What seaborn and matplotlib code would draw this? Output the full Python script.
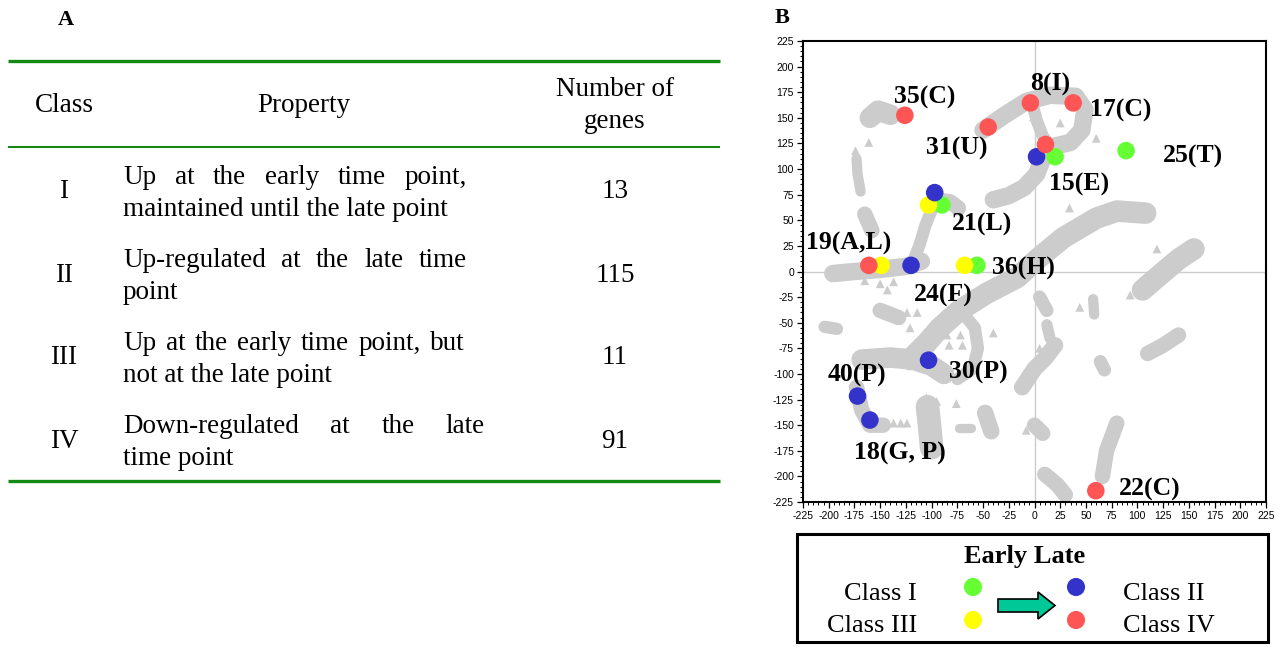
import numpy as np
import pandas as pd
import seaborn as sns
import matplotlib.pyplot as plt
from matplotlib.patches import Rectangle, FancyArrow

sns.set_theme(style="white")
plt.rcParams['font.family'] = ['Liberation Serif', 'DejaVu Serif']
plt.rcParams['axes.unicode_minus'] = False
plt.rcParams['text.color'] = 'black'
plt.rcParams['xtick.color'] = 'black'
plt.rcParams['ytick.color'] = 'black'

# ---- panel A: table ----
row_class = ["I", "II", "III", "IV"]
row_text = [["Up at the early time point,", "maintained until the late point"],
            ["Up-regulated at the late time", "point"],
            ["Up at the early time point, but", "not at the late point"],
            ["Down-regulated at the late", "time point"]]
row_genes = ["13", "115", "11", "91"]

# ---- panel B: gene points on the map ----
pt_x = [-126, -45, -4, 37.6, 2, 20, 10.7, 89, -90, -103, -97,
        -149, -161, -120, -56, -68, -103, -172, -160, 59.6]
pt_y = [152.5, 141, 164.6, 164.6, 112, 112, 124, 118, 65, 65, 77,
        6, 6, 6, 6, 6, -86.6, -121.6, -145, -214]
pt_cls = ["IV", "IV", "IV", "IV", "II", "I", "IV", "I", "I", "III", "II",
          "III", "IV", "II", "I", "III", "II", "II", "II", "IV"]
cls_colors = {"I": "#66ff33", "II": "#3333cc", "III": "#ffff00", "IV": "#ff5555"}

lab_text = ["35(C)", "8(I)", "17(C)", "31(U)", "25(T)", "15(E)", "21(L)", "19(A,L)",
            "36(H)", "24(F)", "30(P)", "40(P)", "18(G, P)", "22(C)"]
lab_x = [-107, 15, 84, -76, 154, 43, -51, -181, -11, -89, -55, -173, -131, 112]
lab_y = [170, 183, 157, 120, 112, 85, 46, 27, 3, -23, -99, -101, -178, -213]

# grey background of the map (ridges: points + thickness in map units)
ridges = [
    ([(-160, 150), (-152, 157), (-140, 153)], 20),
    ([(-50, 138), (-30, 152), (-8, 166), (15, 172), (40, 171), (49, 158), (46, 138),
      (35, 126), (18, 122), (8, 110), (2, 95), (-10, 82), (-25, 74), (-40, 70)], 17),
    ([(-2, 163), (2, 148), (8, 132), (14, 124)], 12),
    ([(-121, -86), (-105, -70), (-92, -55), (-73, -38), (-46, -21), (-17, -6),
      (5, 14), (28, 33), (60, 52), (80, 59), (108, 57)], 21),
    ([(-168, -86), (-140, -84), (-118, -86), (-100, -92), (-88, -100)], 20),
    ([(-70, -40), (-58, -55), (-55, -75), (-60, -95), (-75, -105)], 12),
    ([(-196, -2), (-175, 0), (-150, 2), (-125, 5), (-110, 10)], 17),
    ([(-120, 5), (-112, 25), (-106, 45), (-100, 60)], 12),
    ([(-95, 70), (-82, 68), (-74, 62)], 15),
    ([(-173, 110), (-172, 95), (-169, 78)], 10),
    ([(-165, 56), (-158, 40)], 15),
    ([(-150, -38), (-132, -45)], 15),
    ([(-204, -54), (-192, -56)], 12),
    ([(-173, -113), (-168, -135), (-160, -150), (-147, -150)], 15),
    ([(-104, -132), (-102, -150), (-100, -172)], 23),
    ([(-48, -138), (-42, -156)], 16),
    ([(-73, -153), (-62, -153)], 9),
    ([(-12, -113), (0, -95), (10, -85), (20, -72)], 16),
    ([(5, -25), (12, -38)], 13),
    ([(12, -52), (15, -65)], 11),
    ([(57, -27), (58, -42)], 10),
    ([(105, -18), (120, -5), (140, 12), (155, 22)], 21),
    ([(110, -80), (125, -72), (140, -62)], 15),
    ([(64, -88), (68, -96)], 13),
    ([(66, -200), (70, -175), (80, -148)], 15),
    ([(10, -198), (22, -208), (30, -218)], 15),
    ([(0, -150), (8, -158)], 15),
]
tri_x = [-161, 60, 119, 34, 8, -1, 93, 44, 5, -121, -105, -95, -76, -137, -130, -124,
         -85, -72, -70, -83, -124, -114, -150, -143, -137, -165, -8, -174, 25, -40]
tri_y = [126, 130, 22, 62, 141, 151, -23, -35, -75, -55, -123, -127, -129, -148, -148, -148,
         -62, -62, -72, -72, -40, -40, -12, -18, -10, -9, -155, 118, 145, -60]

fig = plt.figure(figsize=(12.81, 6.47), dpi=100)

# overlay axes in pixel units for table + legend
ov = fig.add_axes([0, 0, 1, 1])
ov.set_xlim(0, 1281)
ov.set_ylim(647, 0)
ov.axis("off")

green = "#138a13"
ov.text(66, 20, "A", ha="center", va="center", fontsize=16, fontweight="bold")
ov.plot([8, 720], [61, 61], color=green, lw=2.4, solid_capstyle="butt")
ov.plot([8, 720], [147, 147], color=green, lw=1.5, solid_capstyle="butt")
ov.plot([8, 720], [481, 481], color=green, lw=2.4, solid_capstyle="butt")

fs = 19.5
ov.text(64, 106, "Class", ha="center", va="center", fontsize=fs)
ov.text(304, 106, "Property", ha="center", va="center", fontsize=fs)
ov.text(615, 90, "Number of", ha="center", va="center", fontsize=fs)
ov.text(615, 122, "genes", ha="center", va="center", fontsize=fs)

renderer = fig.canvas.get_renderer()


def justified(line, x0, x1, yb):
    words = line.split(" ")
    objs = [ov.text(x0, yb, w, ha="left", va="baseline", fontsize=fs) for w in words]
    widths = [o.get_window_extent(renderer).width for o in objs]
    gap = (x1 - x0 - sum(widths)) / (len(words) - 1)
    x = x0
    for o, w in zip(objs, widths):
        o.set_x(x)
        x += w + gap


row_y = [192, 275, 358, 441]
row_right = [467, 467, 465, 485]
for yc, c, lines, g, xr in zip(row_y, row_class, row_text, row_genes, row_right):
    ov.text(64, yc, c, ha="center", va="center", fontsize=fs)
    ov.text(615, yc, g, ha="center", va="center", fontsize=fs)
    justified(lines[0], 123, xr, yc - 8)
    ov.text(123, yc + 24, lines[1], ha="left", va="baseline", fontsize=fs)

# ---- legend box ----
ov.add_patch(Rectangle((797, 534), 471, 108, fill=False, lw=2.2, edgecolor="black"))
ov.text(1025, 557, "Early Late", ha="center", va="center", fontsize=19, fontweight="bold")
ov.text(917, 594, "Class I", ha="right", va="center", fontsize=19)
ov.text(917, 626, "Class III", ha="right", va="center", fontsize=19)
ov.text(1123, 594, "Class II", ha="left", va="center", fontsize=19)
ov.text(1123, 626, "Class IV", ha="left", va="center", fontsize=19)
leg = pd.DataFrame({"x": [973, 973, 1076, 1076], "y": [587, 620, 587, 620],
                    "cls": ["I", "III", "II", "IV"]})
sns.scatterplot(data=leg, x="x", y="y", hue="cls", palette=cls_colors, s=170,
                edgecolor="none", legend=False, ax=ov)
ov.add_patch(FancyArrow(998, 605.5, 40, 0, width=13, head_width=27, head_length=17,
                        length_includes_head=False, facecolor="#00c896",
                        edgecolor="black", lw=1.2))
ov.set_xlim(0, 1281)
ov.set_ylim(647, 0)
ov.set_xlabel("")
ov.set_ylabel("")

# ---- panel B: map ----
ov.text(782, 18, "B", ha="center", va="center", fontsize=16, fontweight="bold")
ax = fig.add_axes([803 / 1281, 1 - 502 / 647, 463 / 1281, 461 / 647])
ax.set_facecolor("white")
ax.axhline(0, color="#cccccc", lw=1, zorder=0.5)
ax.axvline(0, color="#cccccc", lw=1, zorder=0.5)

unit_pt = 463 / 450 * 0.72
for pts, w in ridges:
    xs = [p[0] for p in pts]
    ys = [p[1] for p in pts]
    sns.lineplot(x=xs, y=ys, sort=False, estimator=None, color="#cccccc",
                 lw=w * unit_pt, solid_capstyle="round", solid_joinstyle="round",
                 ax=ax, zorder=1)
sns.scatterplot(x=tri_x, y=tri_y, marker="^", s=40, color="#cccccc",
                edgecolor="none", ax=ax, zorder=1)

genes = pd.DataFrame({"x": pt_x, "y": pt_y, "cls": pt_cls})
sns.scatterplot(data=genes, x="x", y="y", hue="cls", palette=cls_colors, s=160,
                edgecolor="none", legend=False, ax=ax, zorder=3)

for t, x, y in zip(lab_text, lab_x, lab_y):
    ax.text(x, y, t, ha="center", va="center", fontsize=18.5, fontweight="bold", zorder=4)

ax.set_xlim(-225, 225)
ax.set_ylim(-225, 225)
ticks = np.arange(-225, 226, 25)
ax.set_xticks(ticks)
ax.set_yticks(ticks)
ax.set_xticks(np.arange(-225, 226, 5), minor=True)
ax.set_yticks(np.arange(-225, 226, 5), minor=True)
ax.set_xticklabels([str(t) for t in ticks], fontfamily="Liberation Sans", fontsize=7.5)
ax.set_yticklabels([str(t) for t in ticks], fontfamily="Liberation Sans", fontsize=7.5)
ax.tick_params(which="major", direction="out", length=4.5, width=0.9, pad=2,
               bottom=True, left=True, top=False, right=False)
ax.tick_params(which="minor", direction="out", length=2.5, width=0.7,
               bottom=True, left=True, top=False, right=False)
ax.set_xlabel("")
ax.set_ylabel("")
for s in ax.spines.values():
    s.set_visible(True)
    s.set_color("black")
    s.set_linewidth(1.5)

fig.savefig("out.png", dpi=100)
